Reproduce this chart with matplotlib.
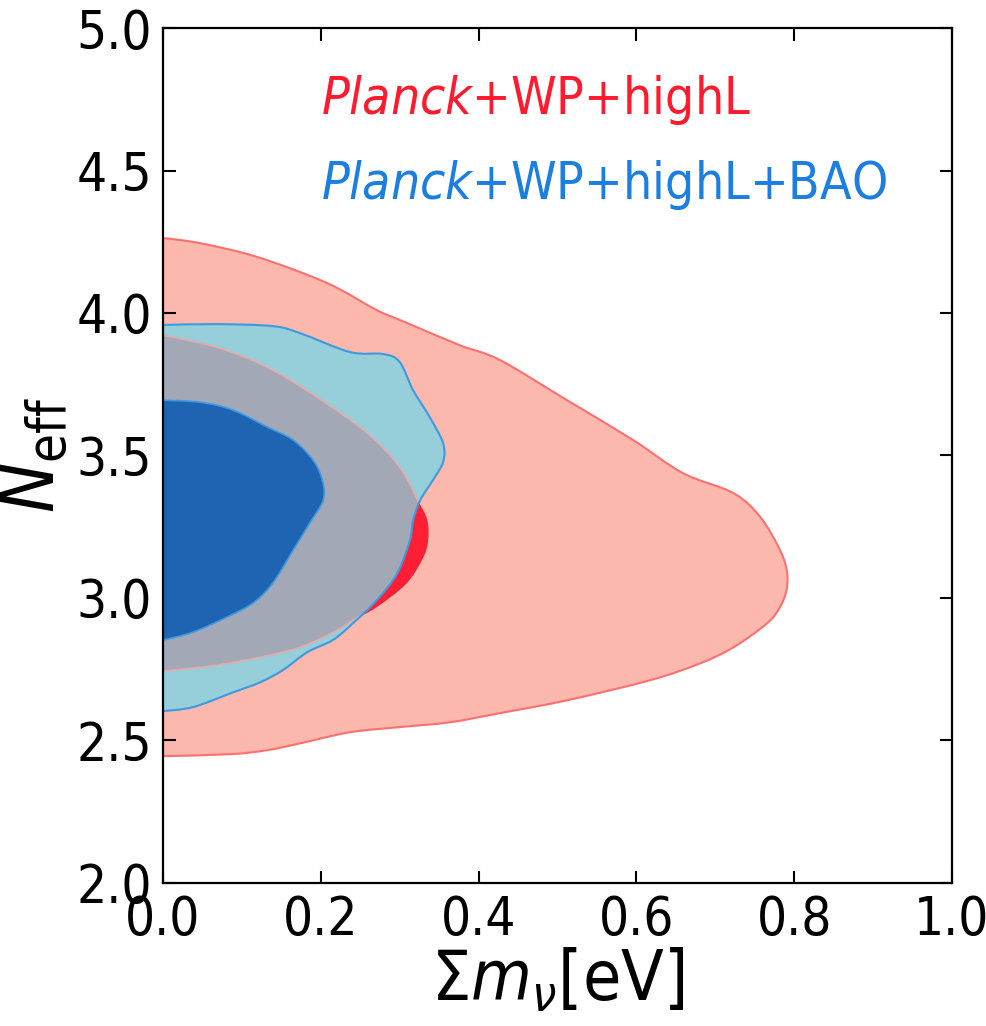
import matplotlib
matplotlib.use('Agg')
import numpy as np
import matplotlib.pyplot as plt
from matplotlib.path import Path
from matplotlib.patches import PathPatch

plt.rcParams['font.family'] = 'DejaVu Sans'
plt.rcParams['font.stretch'] = 'condensed'
plt.rcParams['mathtext.fontset'] = 'custom'
plt.rcParams['mathtext.rm'] = 'DejaVu Sans:stretch=condensed'
plt.rcParams['mathtext.it'] = 'DejaVu Sans:italic:stretch=condensed'
plt.rcParams['mathtext.sf'] = 'DejaVu Sans:stretch=condensed'

# contour boundaries (sum m_nu [eV], N_eff)
red95_x = [0.0, 0.047, 0.120, 0.208, 0.271, 0.305, 0.376, 0.427, 0.512, 0.596, 0.659, 0.723,
           0.757, 0.782, 0.791, 0.790, 0.782, 0.766, 0.723, 0.681, 0.618, 0.512, 0.427, 0.364,
           0.300, 0.237, 0.174, 0.132, 0.086, 0.0]
red95_y = [4.263, 4.245, 4.196, 4.105, 4.010, 3.970, 3.887, 3.835, 3.694, 3.554, 3.438, 3.368,
           3.284, 3.168, 3.090, 3.025, 2.968, 2.912, 2.827, 2.771, 2.712, 2.641, 2.596, 2.564,
           2.547, 2.529, 2.490, 2.466, 2.452, 2.445]

red68_x = [0.0, 0.068, 0.132, 0.195, 0.259, 0.300, 0.323, 0.335, 0.336, 0.330, 0.309, 0.271,
           0.241, 0.221, 0.174, 0.123, 0.068, 0.0]
red68_y = [3.922, 3.880, 3.810, 3.705, 3.578, 3.459, 3.343, 3.273, 3.203, 3.143, 3.052, 2.968,
           2.922, 2.887, 2.827, 2.792, 2.764, 2.743]

blue95_x = [0.0, 0.068, 0.139, 0.174, 0.237, 0.279, 0.300, 0.317, 0.338, 0.355, 0.355, 0.342,
            0.326, 0.317, 0.313, 0.297, 0.271, 0.241, 0.215, 0.183, 0.152, 0.123, 0.089, 0.038, 0.0]
blue95_y = [3.958, 3.961, 3.954, 3.929, 3.863, 3.856, 3.828, 3.729, 3.635, 3.543, 3.477, 3.413,
            3.343, 3.273, 3.203, 3.087, 2.992, 2.912, 2.852, 2.810, 2.747, 2.704, 2.669, 2.617, 2.603]

blue68_x = [0.0, 0.047, 0.089, 0.132, 0.165, 0.190, 0.202, 0.203, 0.186, 0.165, 0.139, 0.114,
            0.081, 0.038, 0.0]
blue68_y = [3.694, 3.687, 3.659, 3.600, 3.554, 3.484, 3.413, 3.343, 3.263, 3.168, 3.052, 2.982,
            2.933, 2.880, 2.852]

xticks = [0.0, 0.2, 0.4, 0.6, 0.8, 1.0]
yticks = [2.0, 2.5, 3.0, 3.5, 4.0, 4.5, 5.0]

fig = plt.figure(figsize=(9.86, 10.26), dpi=100)
ax = fig.add_axes([0.1653, 0.1394, 0.8002, 0.8333])


def smooth_path(xs, ys):
    # bezier through the points (catmull-rom tangents), closed down the x=0 axis
    p = np.column_stack([xs, ys])
    n = len(p)
    verts = [p[0]]
    codes = [Path.MOVETO]
    for i in range(n - 1):
        a = p[max(i - 1, 0)]
        b = p[i]
        c = p[i + 1]
        d = p[min(i + 2, n - 1)]
        verts += [b + (c - a) / 6, c - (d - b) / 6, c]
        codes += [Path.CURVE4] * 3
    verts.append(p[0])
    codes.append(Path.CLOSEPOLY)
    return Path(verts, codes)


def shape(xs, ys, **kw):
    patch = PathPatch(smooth_path(xs, ys), **kw)
    ax.add_patch(patch)
    return patch


shape(red95_x, red95_y, facecolor='#fcb8ac', edgecolor='#ff6f6f', lw=1.5, zorder=1)
shape(red68_x, red68_y, facecolor='#ff1f35', edgecolor='none', zorder=2)
blue_out = shape(blue95_x, blue95_y, facecolor='#96ceda', edgecolor='none', zorder=3)
# red 68% seen through the blue 95% region
grey = shape(red68_x, red68_y, facecolor='#a3a8b7', edgecolor='#e9a9a9', lw=1.2, zorder=4)
grey.set_clip_path(blue_out)
shape(blue95_x, blue95_y, facecolor='none', edgecolor='#3d9ae0', lw=1.5, zorder=5)
shape(blue68_x, blue68_y, facecolor='#1e64b2', edgecolor='#3d9ae0', lw=1.2, zorder=6)

ax.set_xlim(0, 1)
ax.set_ylim(2, 5)
ax.set_xticks(xticks)
ax.set_yticks(yticks)
ax.set_xticklabels(['%.1f' % v for v in xticks])
ax.set_yticklabels(['%.1f' % v for v in yticks])
ax.tick_params(direction='in', length=9, width=1.5, top=True, right=True, labelsize=38, pad=8)
for s in ax.spines.values():
    s.set_linewidth(1.6)
    s.set_zorder(10)

ax.set_xlabel(r'$\Sigma m_\nu[\mathrm{eV}]$', fontsize=50, labelpad=0)
ax.set_ylabel(r'$N_\mathrm{eff}$', fontsize=54, labelpad=4)

ax.text(0.2, 4.70, r'$\mathit{Planck}$+WP+highL', color='#ff1a2e', fontsize=37, va='baseline')
ax.text(0.2, 4.40, r'$\mathit{Planck}$+WP+highL+BAO', color='#1a7fe0', fontsize=37, va='baseline')

fig.savefig('out.png', dpi=100)
